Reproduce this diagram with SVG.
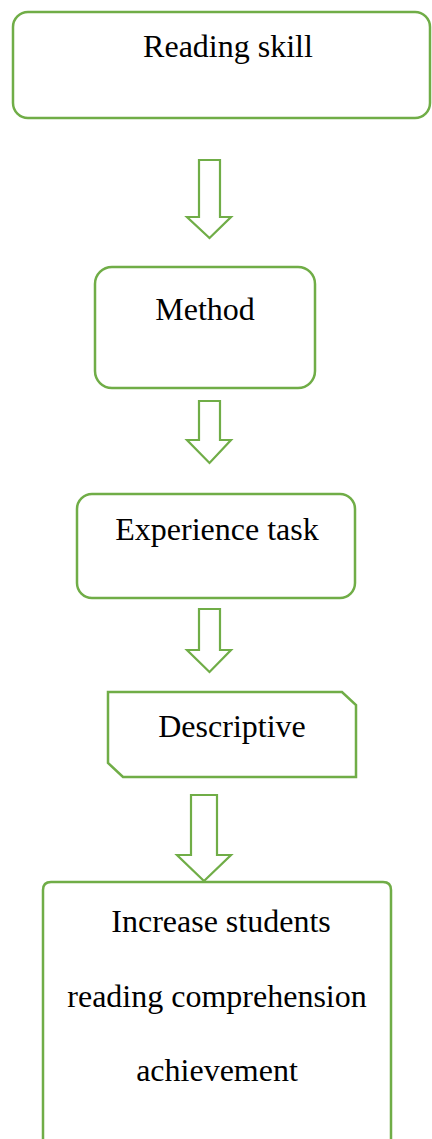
<svg xmlns="http://www.w3.org/2000/svg" width="432" height="1139" viewBox="0 0 432 1139">
<style>
.b{fill:#fff;stroke:#70AD47;stroke-width:2.5}
.a{fill:#fff;stroke:#70AD47;stroke-width:2.2;stroke-linejoin:miter}
text{font-family:"Liberation Serif","Times New Roman",serif;font-size:32px;fill:#000;text-anchor:middle}
</style>
<rect width="432" height="1139" fill="#fff"/>
<g id="connectors">
<polygon class="a" points="199,160 220,160 220,217 231,217 209.5,238 187,217 199,217"/>
<polygon class="a" points="199,401 220,401 220,440 231,440 209.5,463 187,440 199,440"/>
<polygon class="a" points="199,609 220,609 220,650 231,650 209.5,672 187,650 199,650"/>
<polygon class="a" points="191,795 217,795 217,855 231,855 204,881 177,855 191,855"/>
</g>
<g id="n1">
<rect class="b" x="13" y="12" width="417" height="106" rx="15"/>
<text x="228" y="57">Reading skill</text>
</g>
<g id="n2">
<rect class="b" x="95" y="267" width="220" height="121" rx="17"/>
<text x="205" y="320">Method</text>
</g>
<g id="n3">
<rect class="b" x="77" y="494" width="278" height="104" rx="15"/>
<text x="217" y="540">Experience task</text>
</g>
<g id="n4">
<polygon class="b" points="108,692 342,692 356,705 356,777 123,777 108,763"/>
<text x="232" y="737">Descriptive</text>
</g>
<g id="n5">
<path class="b" d="M43,1145 L43,890 Q43,882 51,882 L383,882 Q391,882 391,890 L391,1145"/>
<text x="221" y="932">Increase students</text>
<text x="217" y="1007">reading comprehension</text>
<text x="217" y="1081">achievement</text>
</g>
</svg>
